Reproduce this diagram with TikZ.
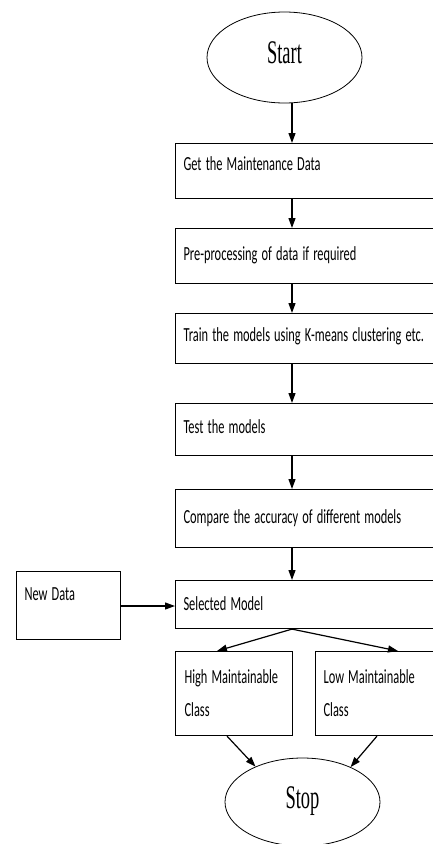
\documentclass[tikz,border=0pt]{standalone}
\usepackage{fontspec}
\usepackage{graphicx}
\newfontfamily\boxfont{Carlito}
\newfontfamily\termfont[FakeStretch=0.56]{Liberation Serif}
\newcommand\nx[1]{\scalebox{0.62}[1]{#1}}
\usetikzlibrary{shapes.geometric,arrows.meta}
\tikzset{
  boxnode/.style={draw, line width=1.1pt, rectangle, anchor=north west, inner xsep=8pt, inner ysep=0pt,
    align=left, font=\boxfont\fontsize{20}{33}\selectfont},
  wide/.style={boxnode, text width=284pt},
  term/.style={draw, ellipse, line width=0.8pt, minimum width=155pt, inner sep=0pt,
    text height=22pt, text depth=10pt, font=\termfont\fontsize{33}{36}\selectfont},
  arr/.style={line width=1.2pt, -{Triangle[length=10pt,width=7pt]}}
}
\begin{document}
\begin{tikzpicture}[x=1pt,y=-1pt]
\useasboundingbox (0,0) rectangle (433,844);
\clip (0,0) rectangle (433,844);
\coordinate (ax) at (292,0);
\node[term, minimum height=91pt] (start) at (284.5,57.5) {Start};
\node[wide, text height=26.5pt, text depth=28.5pt] (b1) at (175,143) {\nx{Get the Maintenance Data}};
\node[wide, text height=32pt, text depth=23pt] (b2) at (175,228) {\nx{Pre-processing of data if required}};
\node[wide, text height=28pt, text depth=22pt] (b3) at (175,313) {\nx{Train the models using K-means clustering etc.}};
\node[wide, text height=29.5pt, text depth=22.5pt] (b4) at (175,403) {\nx{Test the models}};
\node[wide, text height=33.5pt, text depth=24.5pt] (b5) at (175,489) {\nx{Compare the accuracy of different models}};
\node[wide, text height=29.5pt, text depth=18.5pt] (b6) at (175,580) {\nx{Selected Model}};
\node[boxnode, text width=88pt, text height=29pt, text depth=39pt] (nd) at (16,571) {\nx{New Data}};
\node[boxnode, inner xsep=9pt, text width=99pt, minimum height=84pt] (high) at (175,651) {\nx{High Maintainable}\\\nx{Class}};
\node[boxnode, text width=284pt, minimum height=84pt] (low) at (315,651) {\nx{Low Maintainable}\\\nx{Class}};
\node[term, minimum height=88pt] (stop) at (302.5,802) {Stop};
\draw[arr] (start.south -| ax) -- (b1.north -| ax);
\draw[arr] (b1.south -| ax) -- (b2.north -| ax);
\draw[arr] (b2.south -| ax) -- (b3.north -| ax);
\draw[arr] (b3.south -| ax) -- (b4.north -| ax);
\draw[arr] (b4.south -| ax) -- (b5.north -| ax);
\draw[arr] (b5.south -| ax) -- (b6.north -| ax);
\draw[arr] (nd.east |- 0,606) -- (b6.west |- 0,606);
\draw[arr] (b6.south -| ax) -- ([xshift=42pt]high.north west);
\draw[arr] (b6.south -| ax) -- ([xshift=83pt]low.north west);
\draw[arr] ([xshift=52pt]high.south west) -- (stop.143.6);
\draw[arr] ([xshift=62pt]low.south west) -- (stop.36.4);
\end{tikzpicture}
\end{document}
